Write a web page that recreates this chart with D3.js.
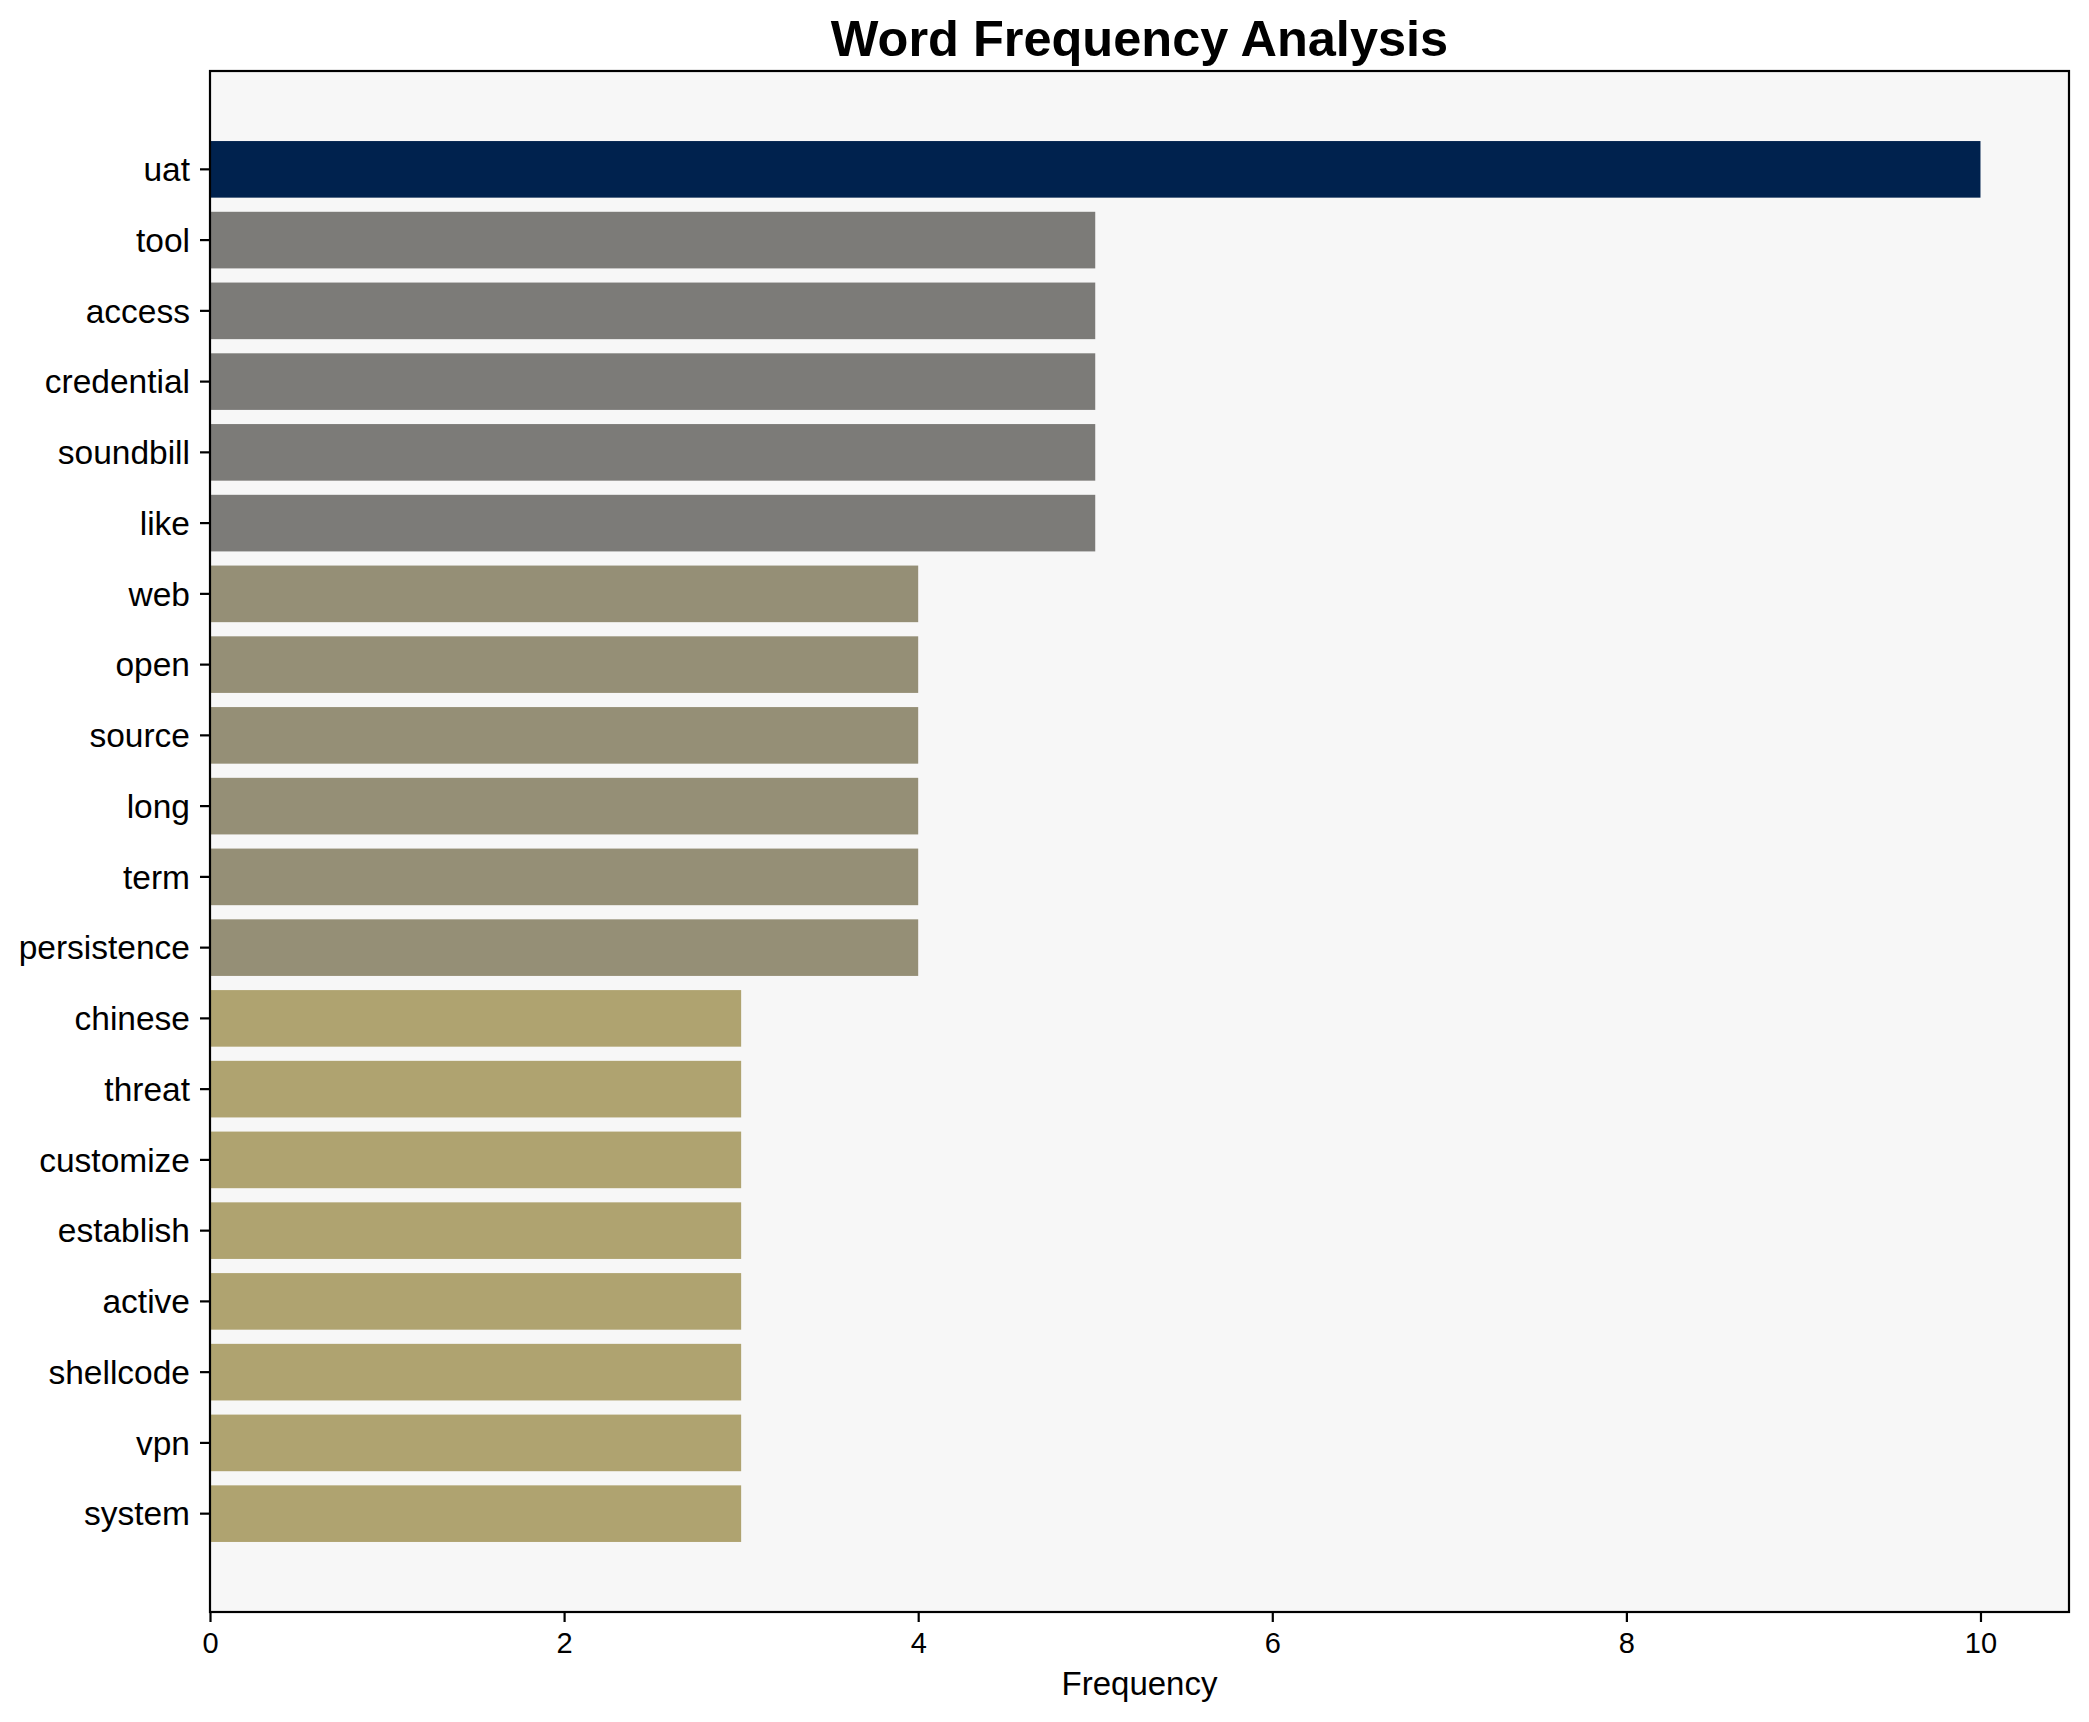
<!doctype html>
<meta charset=utf8>
<title>Word Frequency Analysis</title>
<style>
  body {
    margin: 0;
    background: white;
  }

  text {
    font-family: "Liberation Sans", Arial, sans-serif;
    fill: black;
  }

  .axis path,
  .axis line {
    stroke: black;
    stroke-width: 2.2;
  }
</style>
<svg width=2089 height=1722></svg>
<script src=https://d3js.org/d3.v7.min.js></script>
<script>
  // words, top to bottom
  var words = ['uat', 'tool', 'access', 'credential', 'soundbill', 'like', 'web', 'open', 'source', 'long',
    'term', 'persistence', 'chinese', 'threat', 'customize', 'establish', 'active', 'shellcode', 'vpn', 'system'];
  var counts = [10, 5, 5, 5, 5, 5, 4, 4, 4, 4, 4, 4, 3, 3, 3, 3, 3, 3, 3, 3];
  var xTicks = [0, 2, 4, 6, 8, 10];
  var colorByCount = {10: '#00224e', 5: '#7c7b78', 4: '#958f76', 3: '#afa370'};

  var svg = d3.select('svg');
  var margin = {top: 71, right: 20, bottom: 110, left: 210};
  var width = svg.attr('width') - margin.left - margin.right;
  var height = svg.attr('height') - margin.top - margin.bottom;

  var data = words.map(function(w, i) {
    return {word: w, count: counts[i]};
  });

  var x = d3.scaleLinear().domain([0, 10.5]).range([0, width]);
  var y = d3.scaleBand()
    .domain(words)
    .range([0, height])
    .paddingInner(0.2)
    .paddingOuter(0.99);

  var g = svg.append('g').attr('transform', 'translate(' + margin.left + ',' + margin.top + ')');

  // plot background
  g.append('rect')
    .attr('width', width)
    .attr('height', height)
    .attr('fill', '#f7f7f7');

  g.selectAll('.bar')
    .data(data)
    .enter()
    .append('rect')
    .attr('class', 'bar')
    .attr('x', x(0))
    .attr('y', function(d) { return y(d.word); })
    .attr('width', function(d) { return x(d.count) - x(0); })
    .attr('height', y.bandwidth())
    .attr('fill', function(d) { return colorByCount[d.count]; });

  // frame
  g.append('rect')
    .attr('width', width)
    .attr('height', height)
    .attr('fill', 'none')
    .attr('stroke', 'black')
    .attr('stroke-width', 2.2);

  var xAxis = g.append('g')
    .attr('class', 'axis x')
    .attr('transform', 'translate(0,' + height + ')')
    .call(d3.axisBottom(x).tickValues(xTicks).tickSize(10).tickPadding(10).tickFormat(d3.format('d')));
  xAxis.select('.domain').remove();
  xAxis.selectAll('text').style('font-size', '29px');

  var yAxis = g.append('g')
    .attr('class', 'axis y')
    .call(d3.axisLeft(y).tickSize(10).tickPadding(10));
  yAxis.select('.domain').remove();
  yAxis.selectAll('text').style('font-size', '33.5px').attr('dy', '0.35em');

  svg.append('text')
    .attr('x', margin.left + width / 2)
    .attr('y', 1695)
    .attr('text-anchor', 'middle')
    .style('font-size', '33px')
    .text('Frequency');

  svg.append('text')
    .attr('x', margin.left + width / 2)
    .attr('y', 56)
    .attr('text-anchor', 'middle')
    .style('font-size', '50.5px')
    .style('font-weight', 'bold')
    .text('Word Frequency Analysis');
</script>
